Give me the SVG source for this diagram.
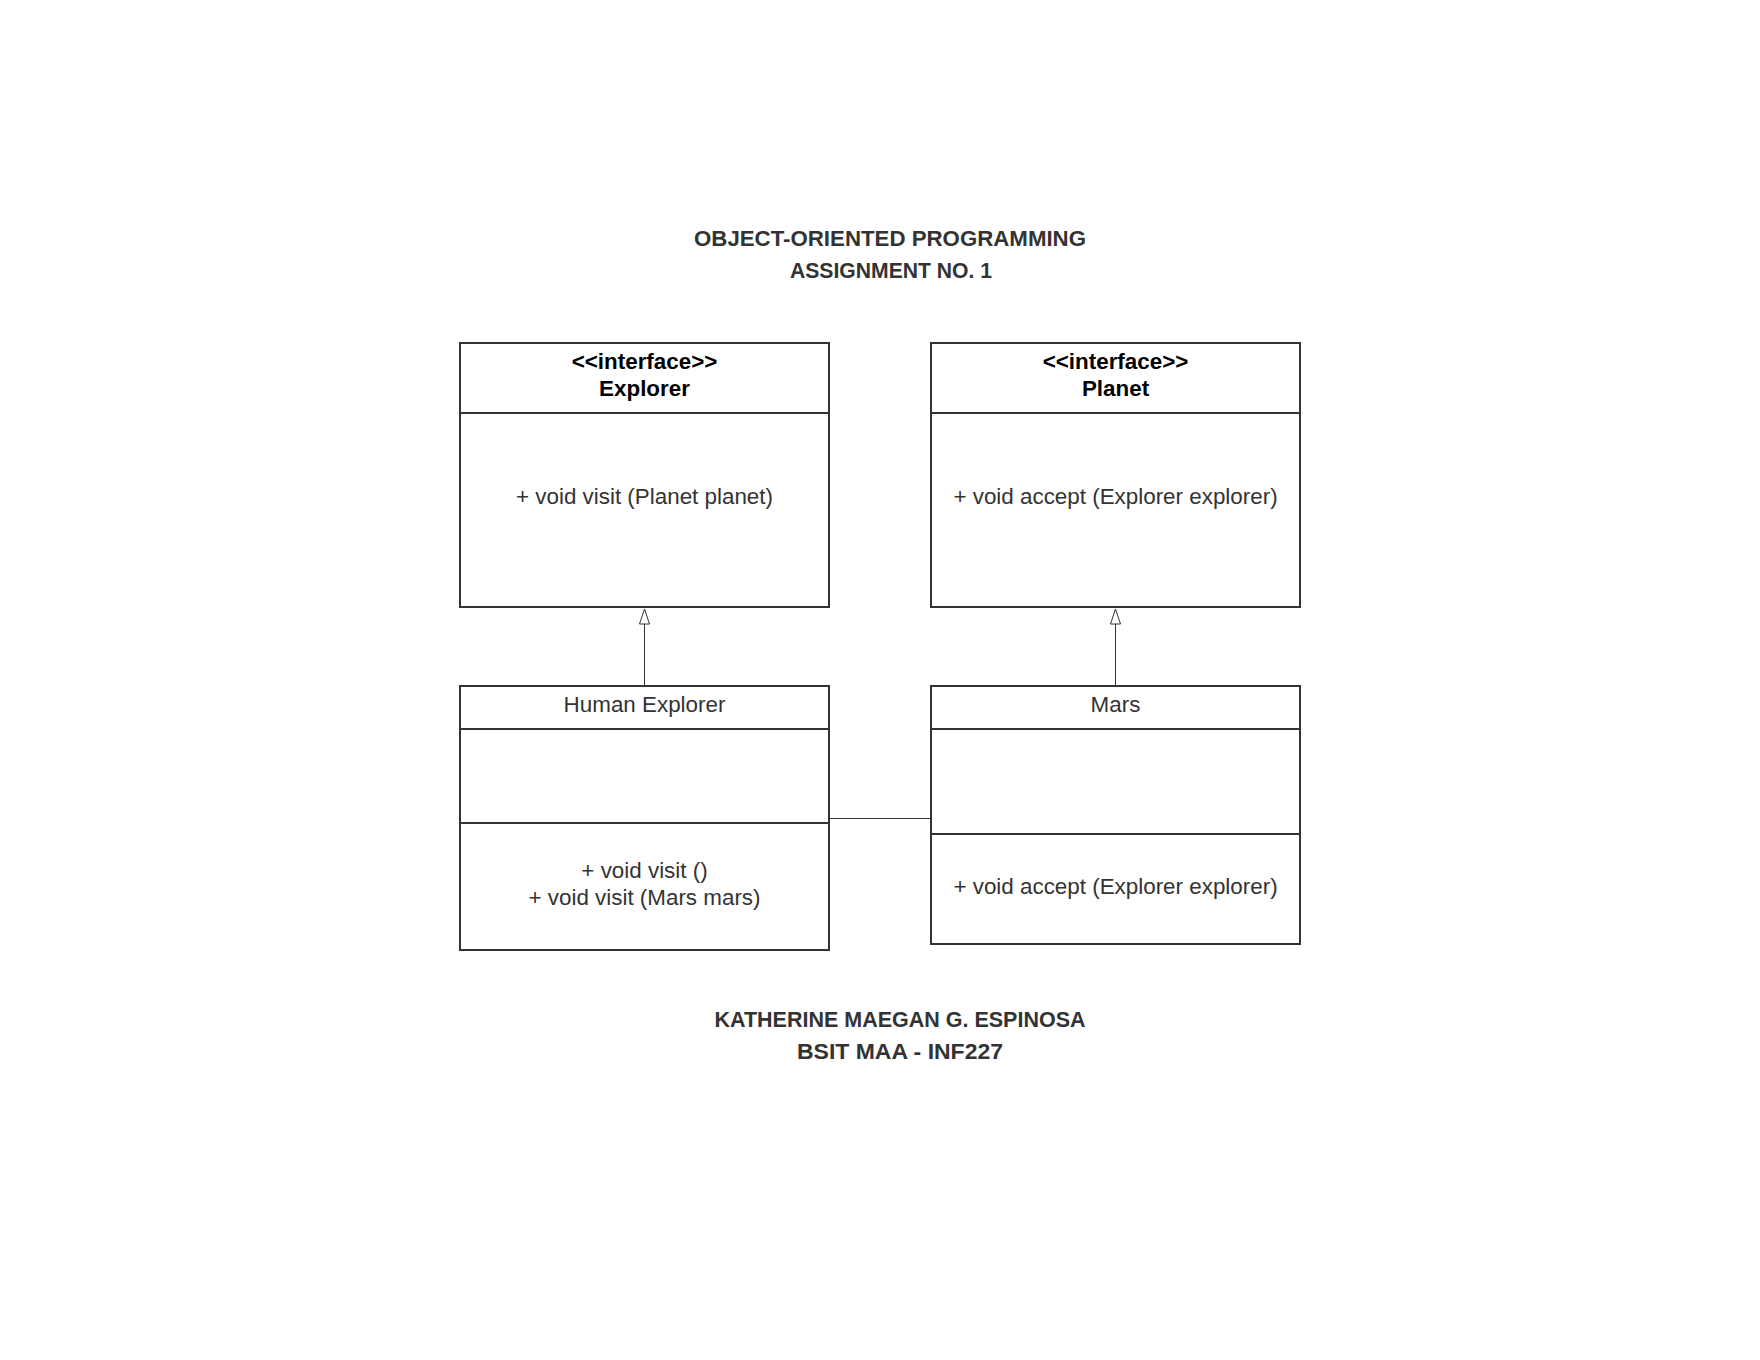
<svg xmlns="http://www.w3.org/2000/svg" width="1760" height="1360" viewBox="0 0 1760 1360">
<style>
.box{fill:#fff;stroke:#333;stroke-width:2}
.div{stroke:#333;stroke-width:2}
.t{font-family:"Liberation Sans",Arial,sans-serif;font-size:22.4px;fill:#333;text-anchor:middle}
.b{font-family:"Liberation Sans",Arial,sans-serif;font-size:22.4px;font-weight:bold;fill:#000;text-anchor:middle}
.h{font-family:"Liberation Sans",Arial,sans-serif;font-size:22px;font-weight:bold;fill:#333;text-anchor:middle}
.c{fill:none;stroke:#333;stroke-width:1}
</style>
<defs>
<marker id="tri" markerWidth="12" markerHeight="18" refX="5.5" refY="0.5" orient="0" markerUnits="userSpaceOnUse" viewBox="0 0 12 18" overflow="visible">
<path d="M5.5,0.5 L10.5,15.5 L0.5,15.5 Z" fill="#fff" stroke="#333" stroke-width="1"/>
</marker>
</defs>
<rect width="1760" height="1360" fill="#fff"/>
<g id="title">
<text class="h" x="890" y="246" textLength="392" lengthAdjust="spacingAndGlyphs">OBJECT-ORIENTED PROGRAMMING</text>
<text class="h" x="891" y="278" textLength="202" lengthAdjust="spacingAndGlyphs">ASSIGNMENT NO. 1</text>
</g>
<g id="footer">
<text class="h" x="900" y="1027" textLength="371" lengthAdjust="spacingAndGlyphs">KATHERINE MAEGAN G. ESPINOSA</text>
<text class="h" x="900" y="1059" textLength="206" lengthAdjust="spacingAndGlyphs">BSIT MAA - INF227</text>
</g>
<g id="connectors">
<line class="c" x1="644.5" y1="686" x2="644.5" y2="609" marker-end="url(#tri)"/>
<line class="c" x1="1115.5" y1="686" x2="1115.5" y2="609" marker-end="url(#tri)"/>
<line class="c" x1="829" y1="818.5" x2="931" y2="818.5"/>
</g>
<g id="explorer">
<rect class="box" x="460" y="343" width="369" height="264"/>
<line class="div" x1="460" y1="413" x2="829" y2="413"/>
<text class="b" x="644.5" y="369">&lt;&lt;interface&gt;&gt;</text>
<text class="b" x="644.5" y="396">Explorer</text>
<text class="t" x="644.5" y="504">+ void visit (Planet planet)</text>
</g>
<g id="planet">
<rect class="box" x="931" y="343" width="369" height="264"/>
<line class="div" x1="931" y1="413" x2="1300" y2="413"/>
<text class="b" x="1115.5" y="369">&lt;&lt;interface&gt;&gt;</text>
<text class="b" x="1115.5" y="396">Planet</text>
<text class="t" x="1115.5" y="504">+ void accept (Explorer explorer)</text>
</g>
<g id="human-explorer">
<rect class="box" x="460" y="686" width="369" height="264"/>
<line class="div" x1="460" y1="729" x2="829" y2="729"/>
<line class="div" x1="460" y1="823" x2="829" y2="823"/>
<text class="t" x="644.5" y="712">Human Explorer</text>
<text class="t" x="644.5" y="878">+ void visit ()</text>
<text class="t" x="644.5" y="905">+ void visit (Mars mars)</text>
</g>
<g id="mars">
<rect class="box" x="931" y="686" width="369" height="258"/>
<line class="div" x1="931" y1="729" x2="1300" y2="729"/>
<line class="div" x1="931" y1="834" x2="1300" y2="834"/>
<text class="t" x="1115.5" y="712">Mars</text>
<text class="t" x="1115.5" y="894">+ void accept (Explorer explorer)</text>
</g>
</svg>
